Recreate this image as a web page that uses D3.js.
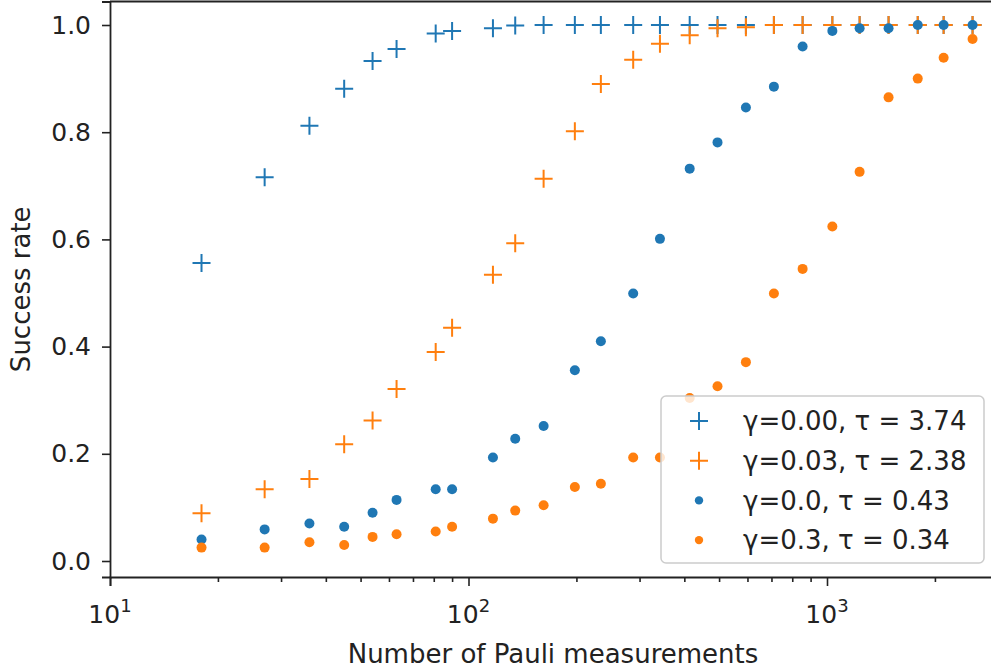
<!DOCTYPE html>
<html>
<head>
<meta charset="utf-8">
<script src="https://cdn.jsdelivr.net/npm/d3@7"></script>
<style>
  body { margin: 0; background: #fff; }
  svg { display: block; font-family: "DejaVu Sans", sans-serif; }
</style>
</head>
<body>
<div id="chart"></div>
<script>
// number of Pauli measurements (shared by all series)
var measurements = [18, 27, 36, 45, 54, 63, 81, 90, 117, 135, 162, 198, 234, 288, 342,
                    414, 495, 594, 711, 855, 1035, 1233, 1485, 1791, 2115, 2547];

var rateG000 = [0.556, 0.716, 0.812, 0.881, 0.933, 0.955, 0.984, 0.989, 0.994, 0.999, 1.0, 1.0, 1.0,
                1.0, 1.0, 1.0, 1.0, 1.0, 1.0, 1.0, 1.0, 1.0, 1.0, 1.0, 1.0, 1.0];
var rateG003 = [0.089, 0.134, 0.153, 0.218, 0.262, 0.321, 0.390, 0.435, 0.534, 0.593, 0.713, 0.802, 0.890,
                0.935, 0.965, 0.981, 0.994, 0.996, 1.0, 1.0, 1.0, 1.0, 1.0, 1.0, 1.0, 1.0];
var rateG00 = [0.040, 0.059, 0.070, 0.064, 0.090, 0.114, 0.134, 0.134, 0.193, 0.228, 0.252, 0.356, 0.410,
               0.499, 0.601, 0.732, 0.781, 0.846, 0.885, 0.960, 0.989, 0.994, 0.994, 1.0, 1.0, 1.0];
var rateG03 = [0.025, 0.025, 0.035, 0.030, 0.045, 0.050, 0.055, 0.064, 0.079, 0.094, 0.104, 0.138, 0.144,
               0.193, 0.193, 0.304, 0.326, 0.371, 0.499, 0.545, 0.624, 0.726, 0.865, 0.900, 0.939, 0.974];

var labels = ["γ=0.00, τ = 3.74", "γ=0.03, τ = 2.38", "γ=0.0, τ = 0.43", "γ=0.3, τ = 0.34"];
var yTicks = [0.0, 0.2, 0.4, 0.6, 0.8, 1.0];
var xTicks = [10, 100, 1000];

var width = 991, height = 672;
var blue = "#1f77b4", orange = "#ff7f0e";
var fontSize = 26, tickFont = 25;

var series = [
  {label: labels[0], values: rateG000, color: blue, marker: "plus"},
  {label: labels[1], values: rateG003, color: orange, marker: "plus"},
  {label: labels[2], values: rateG00, color: blue, marker: "dot"},
  {label: labels[3], values: rateG03, color: orange, marker: "dot"}
];

// plot area (right spine falls just outside the picture)
var axLeft = 110, axRight = 996, axTop = 1.5, axBottom = 577;

var x = d3.scaleLog()
  .domain([10, Math.pow(10, 1 + (axRight - axLeft) / 358.5)])
  .range([axLeft, axRight]);
var y = d3.scaleLinear()
  .domain([(561 - axBottom) / 536, (561 - axTop) / 536])
  .range([axBottom, axTop]);

var svg = d3.select("#chart").append("svg")
  .attr("width", width)
  .attr("height", height);

// points
var plot = svg.append("g");
series.forEach(function (s) {
  var g = plot.append("g");
  var pts = g.selectAll("g")
    .data(measurements.map(function (m, i) { return {x: m, y: s.values[i]}; }))
    .enter().append("g")
    .attr("transform", function (d) { return "translate(" + x(d.x) + "," + y(d.y) + ")"; });
  if (s.marker == "plus") {
    pts.append("path")
      .attr("d", "M-9,0H9M0,-9V9")
      .attr("stroke", s.color)
      .attr("stroke-width", 2)
      .attr("fill", "none");
  } else {
    pts.append("circle")
      .attr("r", 5)
      .attr("fill", s.color);
  }
});

// y axis
svg.append("g")
  .attr("transform", "translate(" + axLeft + ",0)")
  .call(d3.axisLeft(y).tickValues(yTicks).tickFormat(d3.format(".1f")).tickSize(8).tickPadding(11));

// x axis with major and minor ticks
var minor = [];
[10, 100, 1000].forEach(function (p) {
  for (var k = 2; k <= 9; k++) {
    if (p * k < x.domain()[1]) minor.push(p * k);
  }
});
svg.append("g")
  .attr("transform", "translate(0," + axBottom + ")")
  .call(d3.axisBottom(x).tickValues(xTicks).tickFormat("").tickSize(9));
svg.append("g")
  .attr("transform", "translate(0," + axBottom + ")")
  .call(d3.axisBottom(x).tickValues(minor).tickFormat("").tickSize(5))
  .select(".domain").remove();

svg.selectAll(".tick text").attr("font-size", tickFont).attr("fill", "#222").attr("font-family", "DejaVu Sans");
svg.selectAll(".tick line").attr("stroke", "#222").attr("stroke-width", 1.6);
svg.selectAll(".domain").attr("stroke", "#222").attr("stroke-width", 1.8);

xTicks.forEach(function (t) {
  var lbl = svg.append("text")
    .attr("x", x(t))
    .attr("y", 623)
    .attr("text-anchor", "middle")
    .attr("font-size", tickFont)
    .attr("fill", "#222");
  lbl.append("tspan").text("10");
  lbl.append("tspan").attr("dy", -11).attr("font-size", 18).text(Math.round(Math.log10(t)));
});

// top spine
svg.append("line")
  .attr("x1", axLeft).attr("x2", width)
  .attr("y1", axTop).attr("y2", axTop)
  .attr("stroke", "#222").attr("stroke-width", 1.8);

// axis labels
svg.append("text")
  .attr("x", (axLeft + axRight) / 2)
  .attr("y", 663)
  .attr("text-anchor", "middle")
  .attr("font-size", fontSize)
  .attr("fill", "#222")
  .text("Number of Pauli measurements");
svg.append("text")
  .attr("transform", "translate(30," + (axTop + axBottom) / 2 + ") rotate(-90)")
  .attr("text-anchor", "middle")
  .attr("font-size", fontSize)
  .attr("fill", "#222")
  .text("Success rate");

// legend
var legend = svg.append("g").attr("transform", "translate(661,396)");
legend.append("rect")
  .attr("width", 323).attr("height", 167)
  .attr("rx", 5)
  .attr("fill", "white").attr("fill-opacity", 0.8)
  .attr("stroke", "#ccc").attr("stroke-width", 1.5);
var item = legend.selectAll(".item")
  .data(series)
  .enter().append("g")
  .attr("transform", function (d, i) { return "translate(0," + (25 + i * 39.7) + ")"; });
item.each(function (d) {
  var g = d3.select(this);
  if (d.marker == "plus") {
    g.append("path").attr("d", "M29,0H47M38,-9V9")
      .attr("stroke", d.color).attr("stroke-width", 2);
  } else {
    g.append("circle").attr("cx", 38).attr("r", 4.2).attr("fill", d.color);
  }
});
item.append("text")
  .attr("x", 82)
  .attr("dy", "0.36em")
  .attr("font-size", fontSize)
  .attr("fill", "#222")
  .text(function (d) { return d.label; });
</script>
</body>
</html>
